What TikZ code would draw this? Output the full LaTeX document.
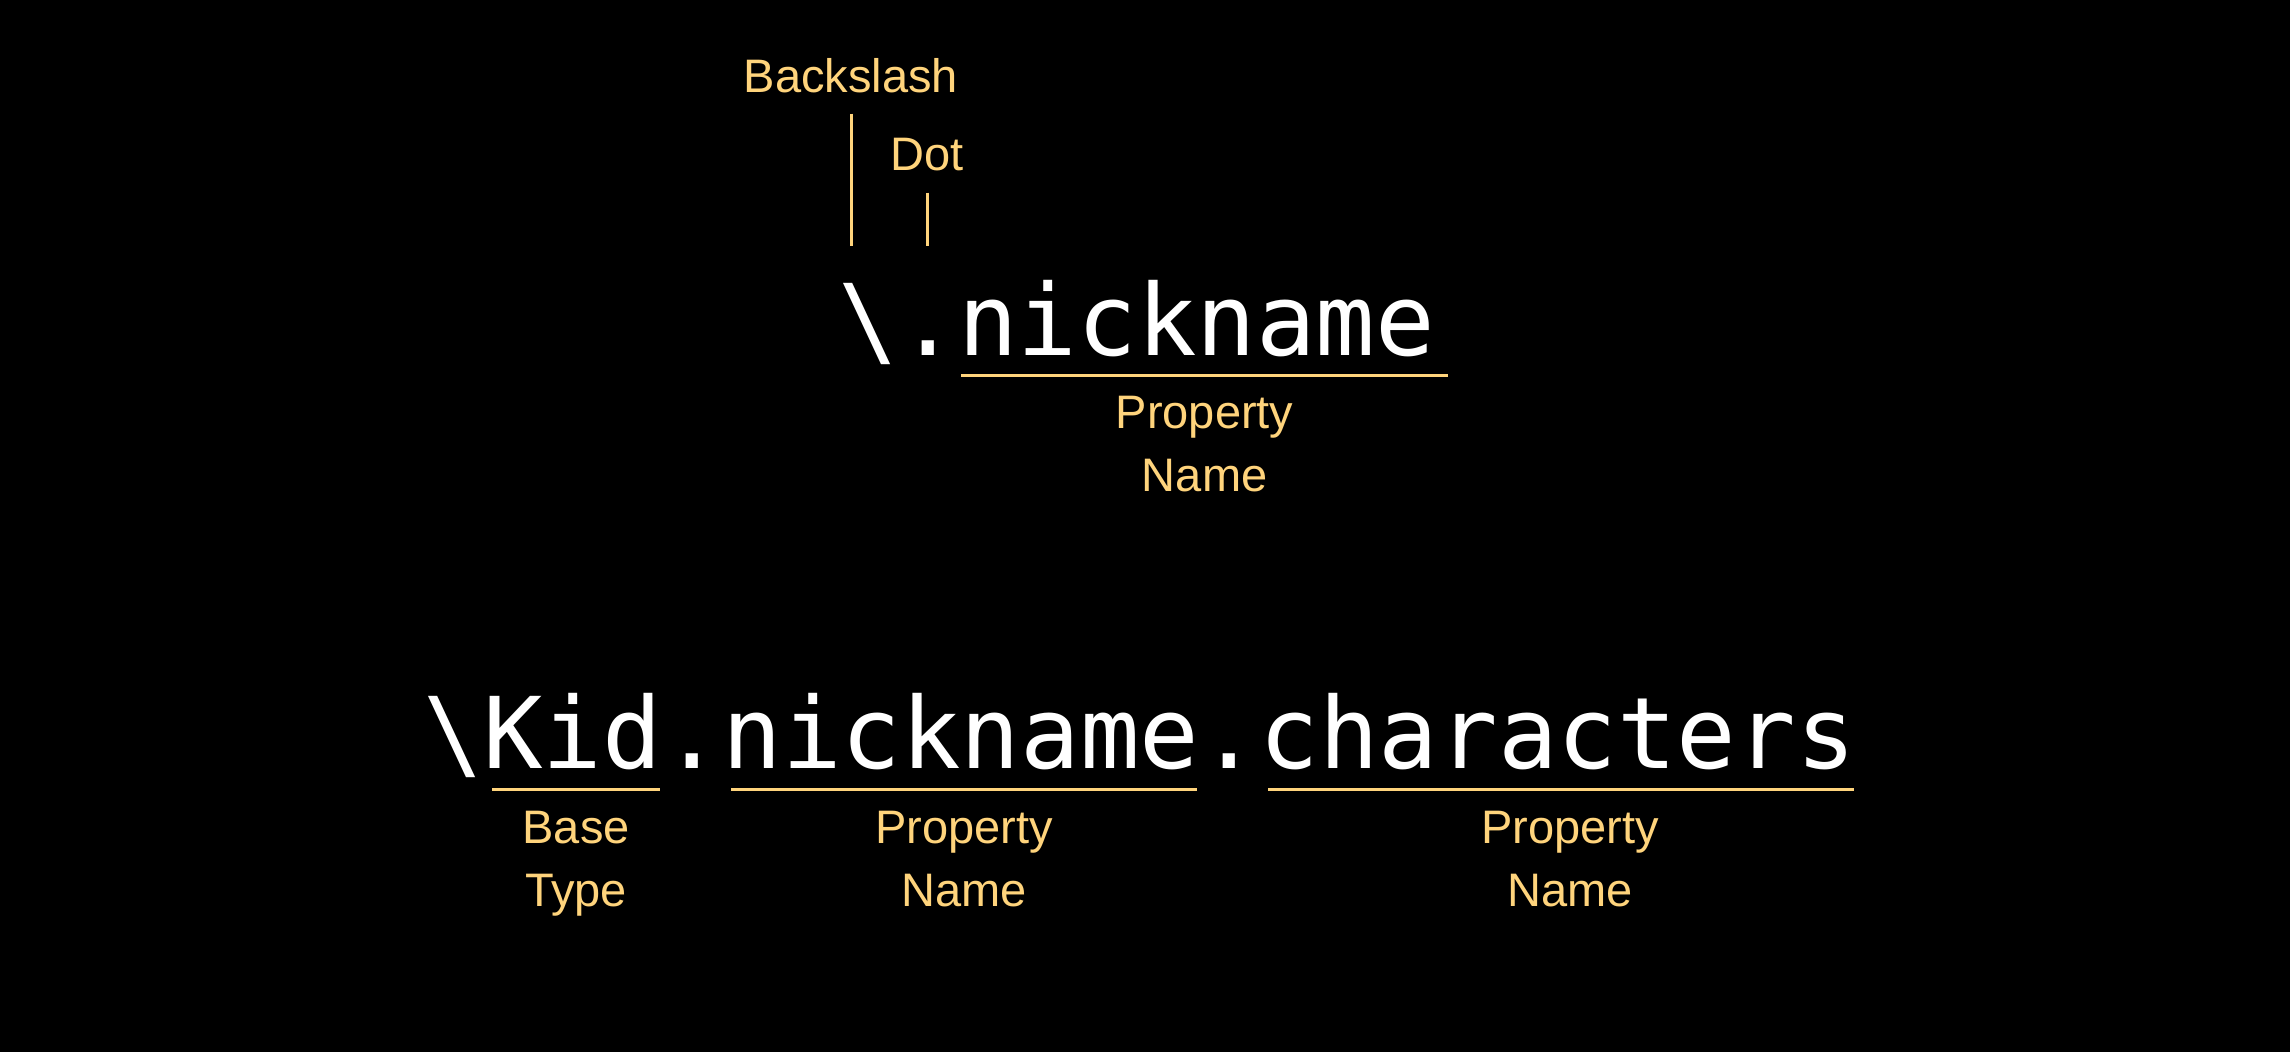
\documentclass[tikz,border=0pt]{standalone}
\usepackage{fontspec}
\setmainfont{Liberation Sans}
\newfontfamily\codefont{DejaVu Sans Mono}
\usetikzlibrary{positioning}
\definecolor{keyyellow}{RGB}{255,212,124}
\tikzset{
  code/.style={inner sep=0pt, anchor=base west, text=white, font=\codefont\fontsize{99}{110}\selectfont},
  lbl/.style={inner sep=0pt, text=keyyellow, align=center, font=\fontsize{47}{63}\selectfont},
  uline/.style={draw=keyyellow, line width=3pt},
  tick/.style={draw=keyyellow, line width=3pt}
}
\begin{document}
\begin{tikzpicture}[x=1pt,y=-1pt]
			% Hintergrund
			\fill[black] (0,0) rectangle (2290,1052);
			\useasboundingbox (0,0) rectangle (2290,1052);

			% obere Zeile
			\node[code] (bsA) at (838,355) {\textbackslash};
			\node[code] (dotA) at (bsA.base east) {.};
			\node[code] (nickA) at (dotA.base east) {nickname};

			\node[lbl, anchor=base] (bslbl) at (851,92) {Backslash};
			\node[lbl, anchor=base] (dotlbl) at (927,170) {Dot};
			\coordinate (tickend) at (0,246);
			\draw[tick] ([yshift=-21pt]bslbl.south) -- (bslbl.south |- tickend);
			\draw[tick] ([yshift=-22pt]dotlbl.south) -- (dotlbl.south |- tickend);

			\draw[uline] ([shift={(3pt,-20pt)}]nickA.base west) -- ([shift={(13pt,-20pt)}]nickA.base east) coordinate[midway] (ulA);
			\node[lbl, below=21pt of ulA] (propA) {Property\\Name};

			% untere Zeile
			\node[code] (bsB) at (423,768) {\textbackslash};
			\node[code] (kid) at (bsB.base east) {Kid};
			\node[code] (dotB) at (kid.base east) {.};
			\node[code] (nickB) at (dotB.base east) {nickname};
			\node[code] (dotC) at (nickB.base east) {.};
			\node[code] (chars) at (dotC.base east) {characters};

			\draw[uline] ([shift={(9pt,-21pt)}]kid.base west) -- ([shift={(-2pt,-21pt)}]kid.base east) coordinate[midway] (ulK);
			\draw[uline] ([shift={(9pt,-21pt)}]nickB.base west) -- ([shift={(-2pt,-21pt)}]nickB.base east) coordinate[midway] (ulN);
			\draw[uline] ([shift={(9pt,-21pt)}]chars.base west) -- ([shift={(-2pt,-21pt)}]chars.base east) coordinate[midway] (ulC);
			\node[lbl, below=22pt of ulK] (base) {Base\\Type};
			\node[lbl, below=22pt of ulN] (propN) {Property\\Name};
			\node[lbl, below=22pt of ulC, xshift=9pt] (propC) {Property\\Name};
\end{tikzpicture}
\end{document}
